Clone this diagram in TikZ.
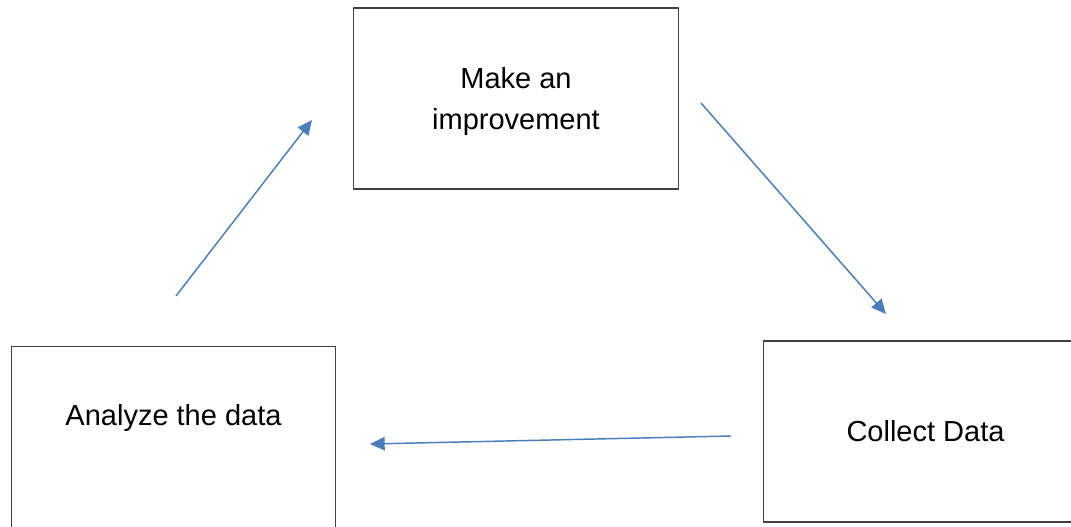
\documentclass[tikz,border=0pt]{standalone}
\usepackage{fontspec}
\setmainfont{Liberation Sans}
\usetikzlibrary{arrows.meta}
\definecolor{arrowblue}{RGB}{74,126,187}
\begin{document}
\begin{tikzpicture}[x=0.75pt, y=-0.75pt, line join=round,
	font=\fontsize{21.75}{30.75}\selectfont,
	stagebox/.style={draw=black!75, line width=0.9pt, rectangle, minimum width=243.5pt, minimum height=135.75pt, align=center, inner sep=0pt},
	flow/.style={draw=arrowblue, line width=1.1pt, -{Triangle[length=11pt, width=10pt]}}]
	\useasboundingbox (0,0) rectangle (1071,527);
	% the three stages
	\node[stagebox, label={[align=center, yshift=-2.5pt]center:Make an\\improvement}] (improve) at (516,98.5) {};
	\node[stagebox] (collect) at (925.5,431.5) {Collect Data};
	\node[stagebox, label={[yshift=14pt]center:Analyze the data}] (analyze) at (173.5,437) {};
	% loose arrow ends
	\path (176,296) coordinate (a1)
	(312,120) coordinate (b1)
	(701,103) coordinate (a2)
	(886,314) coordinate (b2)
	(731,436) coordinate (a3)
	(370,444) coordinate (b3);
	\foreach \p/\q in {a1/b1,a2/b2,a3/b3}{
		\draw[flow] (\p)--(\q);}
\end{tikzpicture}
\end{document}
